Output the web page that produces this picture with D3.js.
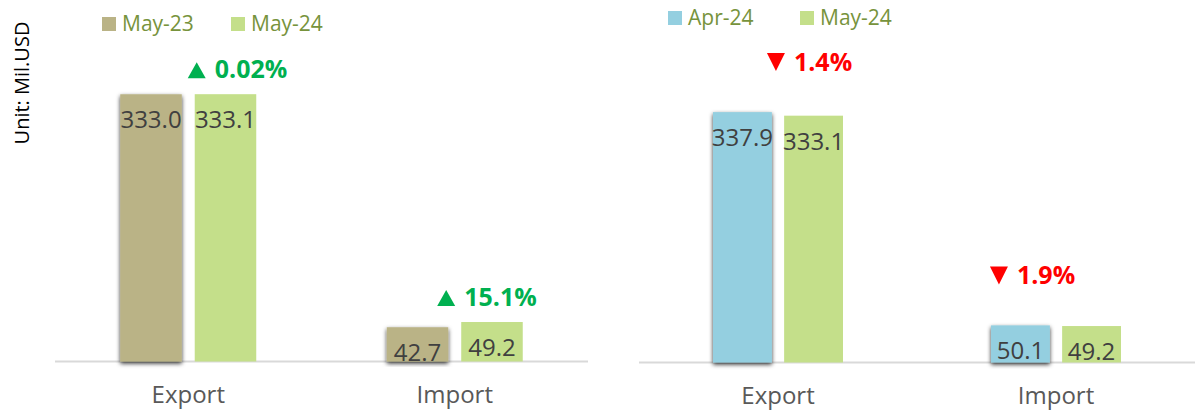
<!DOCTYPE html>
<html>
<head>
<meta charset="utf-8">
<script src="https://cdn.jsdelivr.net/npm/d3@7"></script>
<style>
  body { margin: 0; background: #fff; }
  text { font-family: "Open Sans", "Noto Sans", sans-serif; }
</style>
</head>
<body>
<div id="chart"></div>
<script>
var width = 1195;
var height = 411;

// data
var categories = ["Export", "Import"];

var leftSeries = ["May-23", "May-24"];
var leftValues = [[333.0, 333.1], [42.7, 49.2]];   // per category: [May-23, May-24]
var leftChange = ["0.02%", "15.1%"];
var leftDir = ["up", "up"];

var rightSeries = ["Apr-24", "May-24"];
var rightValues = [[337.9, 333.1], [50.1, 49.2]];  // per category: [Apr-24, May-24]
var rightChange = ["1.4%", "1.9%"];
var rightDir = ["down", "down"];

var unitLabel = "Unit: Mil.USD";

var svg = d3.select("#chart").append("svg")
    .attr("width", width)
    .attr("height", height);

// shadow for the first series bars
var defs = svg.append("defs");
var f = defs.append("filter").attr("id", "shade")
    .attr("x", "-20%").attr("y", "-10%").attr("width", "140%").attr("height", "125%");
f.append("feDropShadow")
    .attr("dx", 0).attr("dy", 2)
    .attr("stdDeviation", 2)
    .attr("flood-color", "#000")
    .attr("flood-opacity", 0.8);

svg.append("text")
    .attr("transform", "translate(29,83) rotate(-90)")
    .attr("text-anchor", "middle")
    .attr("font-size", 20)
    .attr("fill", "#000")
    .text(unitLabel);

function drawPanel(opt) {
    var g = svg.append("g");

    var x0 = d3.scaleBand()
        .domain(categories)
        .range([opt.left, opt.right]);

    var x1 = d3.scaleBand()
        .domain(opt.series)
        .range([-opt.groupW / 2, opt.groupW / 2])
        .paddingInner(opt.gap / (opt.groupW - opt.barW + opt.gap) );

    var y = d3.scaleLinear()
        .domain([0, 350])
        .range([opt.base, opt.base - 350 * opt.pxPerUnit]);

    // baseline
    g.append("line")
        .attr("x1", opt.left).attr("x2", opt.right)
        .attr("y1", opt.base).attr("y2", opt.base)
        .attr("stroke", "#d9d9d9")
        .attr("stroke-width", 2);

    var groups = g.selectAll(".grp")
        .data(categories)
        .enter().append("g")
        .attr("class", "grp")
        .attr("transform", function (d) { return "translate(" + (x0(d) + x0.bandwidth() / 2) + ",0)"; });

    groups.selectAll("rect")
        .data(function (d, i) {
            return opt.values[i].map(function (v, j) { return { s: opt.series[j], v: v, j: j }; });
        })
        .enter().append("rect")
        .attr("x", function (d) { return x1(d.s); })
        .attr("width", x1.bandwidth())
        .attr("y", function (d) { return y(d.v); })
        .attr("height", function (d) { return y(0) - y(d.v); })
        .attr("fill", function (d) { return opt.colors[d.j]; })
        .attr("filter", function (d) { return d.j === 0 ? "url(#shade)" : null; });

    groups.selectAll(".val")
        .data(function (d, i) {
            return opt.values[i].map(function (v, j) { return { s: opt.series[j], v: v }; });
        })
        .enter().append("text")
        .attr("class", "val")
        .attr("x", function (d) { return x1(d.s) + x1.bandwidth() / 2; })
        .attr("y", function (d) { return y(d.v) + 34; })
        .attr("text-anchor", "middle")
        .attr("font-size", 24)
        .attr("fill", "#404040")
        .text(function (d) { return d.v.toFixed(1); });

    // category labels
    g.selectAll(".cat")
        .data(categories)
        .enter().append("text")
        .attr("class", "cat")
        .attr("x", function (d) { return x0(d) + x0.bandwidth() / 2; })
        .attr("y", opt.catY)
        .attr("text-anchor", "middle")
        .attr("font-size", 24)
        .attr("fill", "#595959")
        .text(function (d) { return d; });

    // change notes
    categories.forEach(function (c, i) {
        var up = opt.dir[i] === "up";
        var col = up ? "#00B050" : "#FF0000";
        var topV = d3.max(opt.values[i]);
        var cx = x0(c) + x0.bandwidth() / 2 + x1(opt.series[1]) + x1.bandwidth() / 2 + opt.noteDx[i];
        var by = y(topV) - opt.noteDy;
        var note = g.append("g").attr("transform", "translate(" + cx + "," + by + ")");
        var txt = note.append("text")
            .attr("x", 0)
            .attr("y", 0)
            .attr("font-size", 25)
            .attr("font-weight", "bold")
            .attr("fill", col)
            .text(opt.change[i]);
        var w = txt.node().getComputedTextLength();
        var tri = 18, th = up ? 16 : 18;
        var left = -(w + tri + 9) / 2;
        txt.attr("x", left + tri + 9);
        var p = d3.path();
        if (up) {
            p.moveTo(left, 0); p.lineTo(left + tri, 0); p.lineTo(left + tri / 2, -th);
        } else {
            p.moveTo(left, -th); p.lineTo(left + tri, -th); p.lineTo(left + tri / 2, 0);
        }
        p.closePath();
        note.append("path").attr("d", p.toString()).attr("fill", col);
    });

    // legend
    var lg = g.selectAll(".lg")
        .data(opt.series)
        .enter().append("g")
        .attr("class", "lg")
        .attr("transform", function (d, i) { return "translate(" + (opt.legX + i * opt.legStep) + "," + opt.legY + ")"; });
    lg.append("rect")
        .attr("x", 0).attr("y", -14)
        .attr("width", 14).attr("height", 14)
        .attr("fill", function (d, i) { return opt.colors[i]; });
    lg.append("text")
        .attr("x", 20).attr("y", 0)
        .attr("font-size", 21)
        .attr("fill", "#77933C")
        .text(function (d) { return d; });
}

drawPanel({
    series: leftSeries, values: leftValues, change: leftChange, dir: leftDir,
    colors: ["#BAB386", "#C4DF8A"],
    left: 55, right: 588, base: 361.5, pxPerUnit: 0.8025,
    groupW: 136, barW: 60, gap: 16,
    catY: 403, noteDx: [12, -5], noteDy: 16,
    legX: 102, legY: 31, legStep: 129
});

drawPanel({
    series: rightSeries, values: rightValues, change: rightChange, dir: rightDir,
    colors: ["#94CFE0", "#C4DF8A"],
    left: 639, right: 1195, base: 362.5, pxPerUnit: 0.741,
    groupW: 130, barW: 58, gap: 15,
    catY: 404, noteDx: [-4, -59], noteDy: 41,
    legX: 668, legY: 25, legStep: 132
});
</script>
</body>
</html>
